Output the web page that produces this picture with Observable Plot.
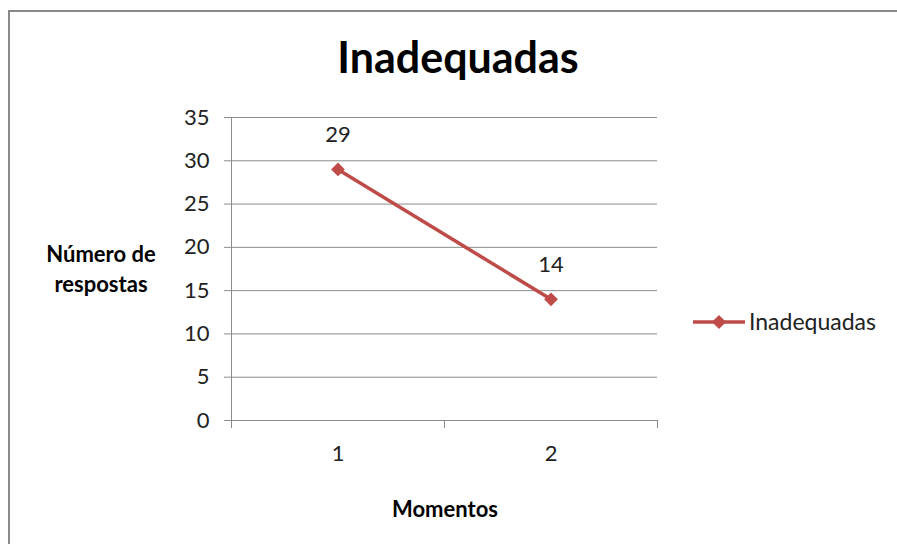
<!DOCTYPE html>
<html>
<head>
<meta charset="utf-8">
<script src="https://cdn.jsdelivr.net/npm/d3@7"></script>
<script src="https://cdn.jsdelivr.net/npm/@observablehq/plot@0.6"></script>
<style>
  body { margin: 0; background: #fff; }
  #wrap { position: relative; width: 897px; height: 544px; overflow: hidden; font-family: Lato, sans-serif; background: #fff; }
  #frame { position: absolute; left: 8px; top: 10px; right: -10px; bottom: -10px; border-top: 2px solid #8a8a8a; border-left: 2px solid #8a8a8a; }
  #chart, #overlay { position: absolute; left: 0; top: 0; }
  #chart g[aria-label="y-axis tick"] path, #chart g[aria-label="x-axis tick"] path { stroke: #8c8c8c; }
</style>
</head>
<body>
<div id="wrap">
  <div id="frame"></div>
  <div id="chart"></div>
  <svg id="overlay" width="897" height="544"></svg>
</div>
<script>
// ---- data ----
const momentos = [1, 2];
const respostas = [29, 14];
const yTicks = [0, 5, 10, 15, 20, 25, 30, 35];
const xTickEdges = [0.5, 1.5, 2.5];
const seriesName = "Inadequadas";
const chartTitle = "Inadequadas";
const yTitleLines = ["Número de", "respostas"];
const xTitle = "Momentos";

const data = momentos.map((m, i) => ({momento: m, valor: respostas[i]}));
const red = "#BE4B48";
const gridColor = "#8c8c8c";
const textColor = "#222";

const plot = Plot.plot({
  width: 897,
  height: 544,
  marginLeft: 231,
  marginRight: 240,
  marginTop: 117,
  marginBottom: 124,
  style: {background: "transparent", fontFamily: "Lato, sans-serif", fontSize: "22px", color: textColor},
  x: {domain: [0.5, 2.5], ticks: xTickEdges, tickFormat: () => "", tickSize: 8, label: null},
  y: {domain: [0, 35], ticks: yTicks, tickSize: 7, tickPadding: 15, label: null},
  marks: [
    Plot.ruleY(yTicks, {stroke: gridColor, strokeWidth: 1}),
    Plot.ruleX([xTickEdges[0]], {stroke: gridColor, strokeWidth: 1}),
    Plot.text(momentos, {x: d => d, frameAnchor: "bottom", dy: 40, text: d => String(d), fill: textColor}),
    Plot.line(data, {x: "momento", y: "valor", stroke: red, strokeWidth: 3.5}),
    Plot.dot(data, {x: "momento", y: "valor", symbol: "square", r: 5.5, fill: red, stroke: "none", rotate: 45}),
    Plot.text(data, {x: "momento", y: "valor", text: d => String(d.valor), dy: -34, fill: textColor})
  ]
});
document.getElementById("chart").appendChild(plot);

// ---- titles & legend (overlay) ----
const ov = d3.select("#overlay").style("font-family", "Lato, sans-serif");
ov.append("text").attr("x", 458).attr("y", 73).attr("text-anchor", "middle")
  .attr("font-size", 43).attr("font-weight", "bold").attr("fill", "#000").text(chartTitle);
yTitleLines.forEach((t, i) => {
  ov.append("text").attr("x", 101).attr("y", 262 + i * 30).attr("text-anchor", "middle")
    .attr("font-size", 22).attr("font-weight", "bold").attr("fill", "#000").text(t);
});
ov.append("text").attr("x", 445).attr("y", 517).attr("text-anchor", "middle")
  .attr("font-size", 22).attr("font-weight", "bold").attr("fill", "#000").text(xTitle);
const lg = ov.append("g").attr("transform", "translate(693,322)");
lg.append("line").attr("x1", 0).attr("x2", 52).attr("y1", 0).attr("y2", 0).attr("stroke", red).attr("stroke-width", 3.5);
lg.append("rect").attr("x", -5).attr("y", -5).attr("width", 10).attr("height", 10).attr("fill", red)
  .attr("transform", "translate(26,0) rotate(45)");
lg.append("text").attr("x", 56).attr("y", 0).attr("dy", "0.35em").attr("font-size", 23).attr("fill", textColor).text(seriesName);
</script>
</body>
</html>
